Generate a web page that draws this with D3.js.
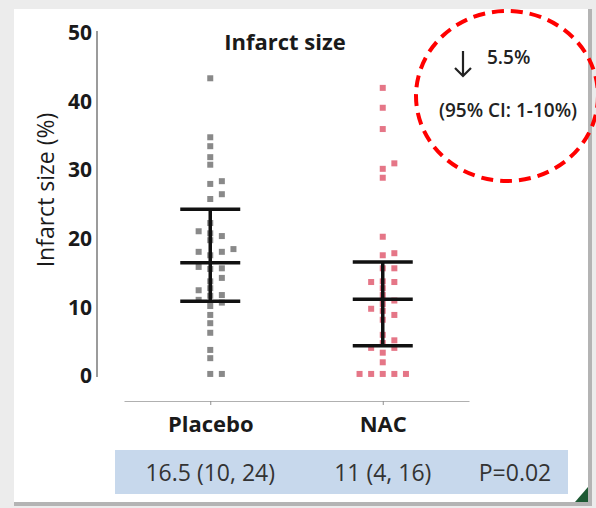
<!DOCTYPE html>
<html>
<head>
<meta charset="utf-8">
<script src="https://cdn.jsdelivr.net/npm/d3@7"></script>
<style>
  body { margin: 0; background: #ececec; }
  svg { display: block; }
  text { font-family: "Open Sans", Lato, sans-serif; }
</style>
</head>
<body>
<svg width="596" height="508"></svg>
<script>
// groups and the individual infarct sizes (%)
var groups = ["Placebo", "NAC"];

var placeboValues = [43.4, 34.8, 33.5, 31.9, 30.8, 28.4, 28.0, 26.5, 25.8, 22.3,
    21.1, 20.8, 20.4, 19.8, 18.5, 18.1, 18.1, 17.6, 15.9, 15.7, 15.6, 14.3, 13.8,
    12.8, 12.5, 11.8, 11.7, 11.1, 10.7, 10.2, 8.9, 7.7, 6.3, 3.8, 2.6, 0.3, 0.3];

var nacValues = [42.0, 39.1, 36.0, 31.0, 30.2, 28.9, 20.3, 17.9, 17.6, 15.7, 15.7,
    13.8, 13.7, 13.7, 12.8, 11.8, 11.0, 10.5, 9.8, 9.5, 8.9, 8.2, 6.0, 5.2, 4.8,
    4.1, 4.1, 3.4, 2.0, 0.3, 0.3, 0.3, 0.3, 0.3];

// median and interquartile range bars
var medians = [16.5, 11.2];
var lowerQ = [10.9, 4.4];
var upperQ = [24.3, 16.6];

var yTicks = [0, 10, 20, 30, 40, 50];
var tableLabels = ["16.5 (10, 24)", "11 (4, 16)"];
var pLabel = "P=0.02";
var effectLabel = "5.5%";
var ciLabel = "(95% CI: 1-10%)";

var svg = d3.select("svg");

// slide-like frame
svg.append("rect").attr("x", 14).attr("y", 9).attr("width", 578).attr("height", 497).attr("fill", "#b4b4b4");
svg.append("rect").attr("x", 14).attr("y", 9).attr("width", 574).attr("height", 493).attr("fill", "#ffffff");
svg.append("path")
    .attr("d", "M575,502L588,502L588,487Z")
    .attr("fill", "#1d5a34");

var y = d3.scaleLinear().domain([0, 50]).range([376, 33]);
var x = d3.scalePoint().domain(groups).range([124, 469]).padding(0.5);

// y axis
var yAxis = svg.append("g")
    .attr("transform", "translate(97,0)")
    .call(d3.axisLeft(y).tickValues(yTicks).tickSize(0).tickPadding(5));
yAxis.select(".domain").attr("stroke", "#7a7a7a").attr("stroke-width", 1.5)
    .attr("d", "M0,377V31");
yAxis.selectAll("text")
    .attr("font-size", 21).attr("font-weight", "bold").attr("fill", "#1a1a1a")
    .attr("font-family", "'Open Sans', sans-serif");

// x axis
var xAxis = svg.append("g")
    .attr("transform", "translate(0,401)")
    .call(d3.axisBottom(x).tickSizeInner(4).tickSizeOuter(0).tickPadding(11));
xAxis.select(".domain").attr("stroke", "#b0b0b0").attr("stroke-width", 1.2);
xAxis.selectAll(".tick line").attr("stroke", "#909090");
xAxis.selectAll("text")
    .attr("font-size", 22).attr("font-weight", "bold").attr("fill", "#1a1a1a")
    .attr("font-family", "'Open Sans', sans-serif");

// titles
svg.append("text")
    .attr("x", 285).attr("y", 50)
    .attr("text-anchor", "middle")
    .attr("font-size", 22).attr("font-weight", "bold").attr("fill", "#1a1a1a")
    .text("Infarct size");

svg.append("text")
    .attr("transform", "translate(54,190) rotate(-90)")
    .attr("text-anchor", "middle")
    .attr("font-size", 23).attr("fill", "#1a1a1a")
    .text("Infarct size (%)");

// simple dodge so the squares of a column do not overlap
var box = 6, slot = 5.8;
function dodge(values, cx) {
    var placed = [];
    values.slice().sort(d3.ascending).forEach(function (v) {
        var py = y(v);
        for (var k = 0; k < 30; k++) {
            var cands = k === 0 ? [0] : [k, -k];
            var found = null;
            cands.some(function (c) {
                var px = cx + c * slot;
                var hit = placed.some(function (p) {
                    return Math.abs(p.x - px) < box + 0.5 && Math.abs(p.y - py) < box + 0.5;
                });
                if (!hit) { found = px; return true; }
                return false;
            });
            if (found !== null) { placed.push({ x: found, y: py, v: v }); break; }
        }
    });
    return placed;
}

var columns = [
    { name: "Placebo", values: placeboValues, color: "#7c7c7c" },
    { name: "NAC", values: nacValues, color: "#e2677a" }
];

columns.forEach(function (col) {
    svg.append("g")
        .selectAll("rect")
        .data(dodge(col.values, x(col.name)))
        .join("rect")
        .attr("x", function (d) { return d.x - box / 2; })
        .attr("y", function (d) { return d.y - box / 2; })
        .attr("width", box).attr("height", box)
        .attr("fill", col.color)
        .attr("fill-opacity", 0.9);
});

// median + IQR bars
var bars = svg.append("g").attr("stroke", "#111").attr("stroke-width", 3.5);
groups.forEach(function (g, i) {
    var cx = x(g);
    bars.append("line").attr("x1", cx).attr("x2", cx).attr("y1", y(upperQ[i])).attr("y2", y(lowerQ[i]));
    [lowerQ[i], medians[i], upperQ[i]].forEach(function (v) {
        bars.append("line").attr("x1", cx - 30).attr("x2", cx + 30).attr("y1", y(v)).attr("y2", y(v));
    });
});

// summary table band
svg.append("rect")
    .attr("x", 115).attr("y", 450).attr("width", 453).attr("height", 44)
    .attr("fill", "#c7d8ec");
groups.forEach(function (g, i) {
    svg.append("text")
        .attr("x", x(g)).attr("y", 481)
        .attr("text-anchor", "middle")
        .attr("font-size", 23).attr("fill", "#333")
        .text(tableLabels[i]);
});
svg.append("text")
    .attr("x", 515).attr("y", 481)
    .attr("text-anchor", "middle")
    .attr("font-size", 23).attr("fill", "#333")
    .text(pLabel);

// red dashed callout
svg.append("ellipse")
    .attr("cx", 507).attr("cy", 96).attr("rx", 91).attr("ry", 85)
    .attr("fill", "none")
    .attr("stroke", "#ff0000").attr("stroke-width", 4)
    .attr("stroke-dasharray", "12,7");

svg.append("path")
    .attr("d", "M463,51V76M455,68L463,76L471,68")
    .attr("fill", "none").attr("stroke", "#222").attr("stroke-width", 2.2);

svg.append("text")
    .attr("x", 487).attr("y", 64)
    .attr("font-size", 19).attr("font-weight", 600).attr("fill", "#222")
    .text(effectLabel);

svg.append("text")
    .attr("x", 508).attr("y", 117)
    .attr("text-anchor", "middle")
    .attr("font-size", 19).attr("font-weight", 600).attr("fill", "#222")
    .text(ciLabel);
</script>
</body>
</html>
